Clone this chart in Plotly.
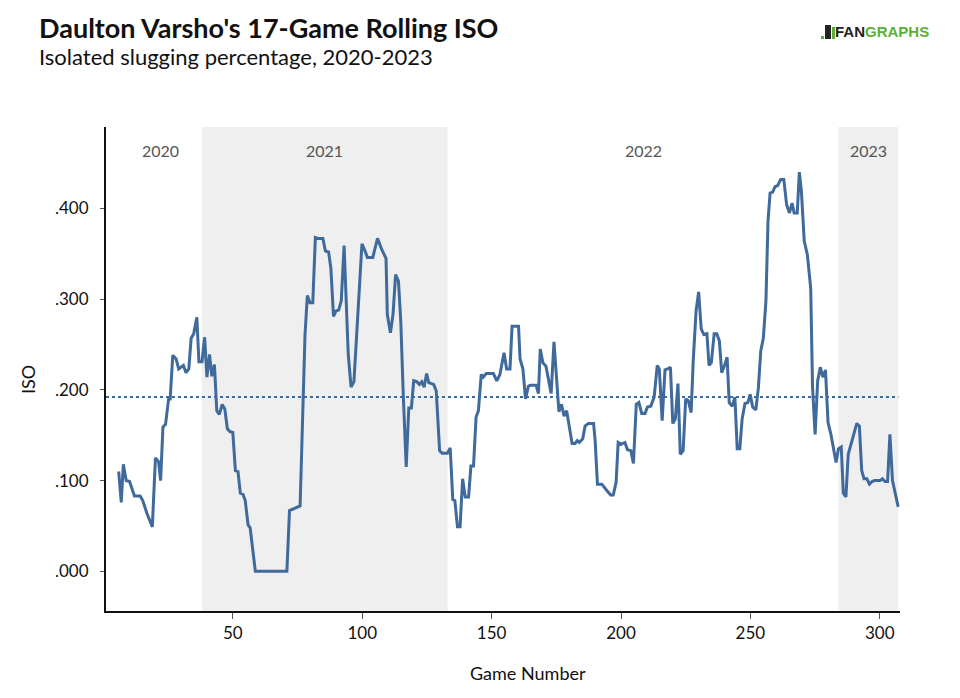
import plotly.graph_objects as go

# ---- data ----
games = [
    5.9, 6.9, 7.7, 8.8, 10.1, 12.0, 14.2, 15.2, 16.8, 18.0, 18.9, 20.1, 21.3, 22.1, 23.0, 24.0,
    25.2, 25.8, 26.8, 28.1, 29.1, 30.9, 31.9, 33.0, 33.9, 34.9, 36.1, 36.9, 38.1, 39.1, 40.0,
    41.0, 41.9, 42.9, 43.8, 44.8, 45.9, 46.9, 47.9, 48.9, 50.0, 51.0, 52.0, 52.9, 53.9, 54.8,
    55.9, 56.7, 58.7, 70.9, 71.9, 76.0,
    77.9, 78.8, 79.8, 80.9, 81.9, 82.9, 84.8, 85.8, 87.0, 87.9, 88.9, 89.9, 90.9, 91.9, 93.0,
    94.6, 95.7, 96.8, 99.9, 101.1, 102.0, 104.1, 105.9, 107.5, 109.2, 109.7, 110.9, 111.9,
    112.9, 114.0, 114.9, 115.9, 117.0, 118.0, 119.0, 119.9, 121.1, 122.1, 123.0, 123.9, 124.9,
    125.7, 127.6, 128.6, 129.9, 130.9, 132.9, 134.0, 135.0, 135.8, 136.8, 137.8, 138.8, 139.8,
    141.1, 142.0, 143.0, 144.0, 144.9, 146.0,
    146.8, 147.9, 150.7, 152.0, 153.2, 154.8, 155.8, 157.1, 157.9, 160.4, 161.0, 162.1, 163.1,
    164.2, 164.9, 167.2, 168.1, 168.8, 169.8, 171.0, 173.0, 174.1, 174.9, 176.0, 177.0, 178.0,
    179.0, 181.1, 182.2, 183.1, 183.9, 185.2, 186.1, 187.4, 189.4, 190.0, 190.9, 192.6, 194.5,
    196.0, 197.0, 198.1, 198.9, 200.0, 201.5, 202.5, 203.8, 204.8, 205.9, 206.9, 208.0, 209.3,
    210.2, 211.5, 212.8, 214.0,
    214.8, 215.9, 217.0, 218.0, 219.1, 220.0, 221.0, 222.0, 222.9, 224.0, 225.0, 226.0, 227.1,
    227.9, 229.0, 230.0, 231.0, 232.0, 233.2, 234.0, 234.9, 236.0, 237.0, 238.0, 238.9, 239.9,
    241.0, 241.8, 243.0, 244.0, 244.9, 245.9, 246.8, 247.9, 249.0, 249.9, 250.9, 252.1, 253.1,
    254.0, 255.0, 256.0, 256.8, 257.6, 258.6, 259.5, 260.5, 261.7, 262.9,
    264.0, 265.1, 266.1, 266.9, 268.1, 268.9, 269.7, 270.8, 272.0, 273.3, 274.0, 275.0, 276.0,
    277.0, 278.0, 279.0, 280.0, 281.1, 282.1, 283.1, 284.0, 285.1, 285.9, 286.9, 287.8, 288.9,
    290.0, 291.1, 292.1, 293.0, 293.9, 295.0, 296.0, 297.0, 298.0, 300.1, 301.0, 302.0, 303.0,
    303.9, 304.9, 305.9, 307.1,
]
iso = [
    0.110, 0.076, 0.118, 0.100, 0.099, 0.083, 0.083, 0.078, 0.064, 0.054, 0.049, 0.125, 0.121,
    0.100, 0.159, 0.162, 0.190, 0.190, 0.238, 0.234, 0.223, 0.227, 0.219, 0.223, 0.257, 0.262,
    0.280, 0.231, 0.231, 0.258, 0.214, 0.239, 0.215, 0.228, 0.177, 0.173, 0.184, 0.179, 0.157,
    0.154, 0.153, 0.111, 0.110, 0.086, 0.085, 0.078, 0.051, 0.048, 0.000, 0.000, 0.067, 0.072,
    0.261, 0.304, 0.296, 0.296, 0.368, 0.367, 0.367, 0.353, 0.352, 0.334, 0.281, 0.287, 0.288,
    0.298, 0.359, 0.239, 0.203, 0.209, 0.361, 0.353, 0.346, 0.346, 0.367, 0.355, 0.345, 0.283,
    0.263, 0.283, 0.327, 0.320, 0.276, 0.192, 0.115, 0.180, 0.180, 0.210, 0.209, 0.206, 0.209,
    0.203, 0.218, 0.208, 0.206, 0.199, 0.133, 0.130, 0.130, 0.136, 0.079, 0.078, 0.049, 0.049,
    0.102, 0.082, 0.082, 0.116, 0.116, 0.170, 0.177, 0.217,
    0.214, 0.218, 0.218, 0.210, 0.217, 0.241, 0.223, 0.223, 0.270, 0.270, 0.234, 0.223, 0.190,
    0.204, 0.205, 0.205, 0.196, 0.245, 0.230, 0.226, 0.196, 0.253, 0.221, 0.176, 0.184, 0.171,
    0.177, 0.141, 0.141, 0.144, 0.142, 0.146, 0.160, 0.163, 0.163, 0.144, 0.096, 0.096, 0.089,
    0.084, 0.084, 0.098, 0.142, 0.140, 0.142, 0.134, 0.133, 0.119, 0.184, 0.186, 0.174, 0.174,
    0.181, 0.182, 0.192, 0.227,
    0.223, 0.166, 0.222, 0.223, 0.225, 0.163, 0.168, 0.207, 0.129, 0.133, 0.190, 0.188, 0.175,
    0.232, 0.287, 0.308, 0.267, 0.261, 0.262, 0.227, 0.230, 0.262, 0.262, 0.254, 0.219, 0.226,
    0.236, 0.186, 0.182, 0.192, 0.135, 0.135, 0.168, 0.185, 0.186, 0.195, 0.181, 0.178, 0.203,
    0.243, 0.257, 0.298, 0.386, 0.417, 0.418, 0.424, 0.425, 0.432, 0.432,
    0.404, 0.395, 0.406, 0.395, 0.395, 0.440, 0.419, 0.364, 0.349, 0.312, 0.203, 0.151, 0.210,
    0.225, 0.214, 0.222, 0.164, 0.151, 0.135, 0.120, 0.135, 0.137, 0.086, 0.082, 0.129, 0.140,
    0.151, 0.163, 0.160, 0.111, 0.102, 0.102, 0.096, 0.099, 0.100, 0.100, 0.102, 0.099, 0.099,
    0.151, 0.100, 0.085, 0.071,
]
career_avg = 0.192

season_labels = ["2020", "2021", "2022", "2023"]
season_label_x = [22.1, 85.5, 208.5, 295.5]
shaded_starts = [38, 284]
shaded_ends = [133, 307.1]

y_tickvals = [0.0, 0.1, 0.2, 0.3, 0.4]
y_ticktext = [".000", ".100", ".200", ".300", ".400"]
x_tickvals = [50, 100, 150, 200, 250, 300]

LINE = "#3f6a9b"
FONT = "Lato"

# The page adds an 8px body margin; the figure is sized so it fills the window.
W, H = 952, 690
ML, MR, MT, MB = 98, 60, 119, 87
PW, PH = W - ML - MR, H - MT - MB


def px(X):
    """screen x pixel -> paper x"""
    return (X - 8 - ML) / PW


def py(Y):
    """screen y pixel -> paper y"""
    return (MT + PH - (Y - 8)) / PH


fig = go.Figure()

fig.add_trace(go.Scatter(
    x=games, y=iso, mode="lines",
    line=dict(color=LINE, width=3),
    hoverinfo="skip", showlegend=False,
))

# shaded seasons
for x0, x1 in zip(shaded_starts, shaded_ends):
    fig.add_vrect(x0=x0, x1=x1, fillcolor="#efefef", line_width=0, layer="below")

# career average dotted line
fig.add_shape(type="line", xref="paper", yref="y", x0=0, x1=0.998,
              y0=career_avg, y1=career_avg,
              line=dict(color=LINE, width=2, dash="dot"))

# season labels
for lbl, xv in zip(season_labels, season_label_x):
    fig.add_annotation(x=xv, y=py(151), xref="x", yref="paper", text=lbl,
                       showarrow=False, xanchor="center", yanchor="middle",
                       font=dict(family=FONT, size=16, color="#555555"))

# title & subtitle
fig.add_annotation(x=px(37), y=py(28), xref="paper", yref="paper",
                   text="<b>Daulton Varsho's 17-Game Rolling ISO</b>", showarrow=False,
                   xanchor="left", yanchor="middle",
                   font=dict(family=FONT, size=27, color="#111111"))
fig.add_annotation(x=px(37), y=py(57), xref="paper", yref="paper",
                   text="Isolated slugging percentage, 2020-2023", showarrow=False,
                   xanchor="left", yanchor="middle",
                   font=dict(family=FONT, size=22, color="#111111"))

# logo
fig.add_annotation(x=px(931), y=py(32), xref="paper", yref="paper",
                   text="<b><span style='color:#222222'>FAN</span>"
                        "<span style='color:#5cb033'>GRAPHS</span></b>",
                   showarrow=False, xanchor="right", yanchor="middle",
                   font=dict(family="Liberation Sans", size=15))
for (a, b, c, d, col) in [(821, 824, 39, 36, "#5cb033"),
                          (825, 831, 39, 25, "#222222"),
                          (832, 835, 39, 27, "#5cb033")]:
    fig.add_shape(type="rect", xref="paper", yref="paper",
                  x0=px(a), x1=px(b), y0=py(c), y1=py(d),
                  fillcolor=col, line_width=0)

# axis titles
fig.add_annotation(x=px(528), y=py(673), xref="paper", yref="paper",
                   text="Game Number", showarrow=False, xanchor="center", yanchor="middle",
                   font=dict(family=FONT, size=18, color="#111111"))
fig.add_annotation(x=px(28), y=py(380), xref="paper", yref="paper",
                   text="ISO", showarrow=False, textangle=-90, xanchor="center",
                   yanchor="middle", font=dict(family=FONT, size=18, color="#111111"))

fig.update_layout(
    width=W, height=H,
    margin=dict(l=ML, r=MR, t=MT, b=MB, autoexpand=False),
    paper_bgcolor="white", plot_bgcolor="white",
    font=dict(family=FONT, size=17, color="#111111"),
    showlegend=False,
    xaxis=dict(range=[1.0, 307.8], tickvals=x_tickvals, showgrid=False, zeroline=False,
               showline=True, linecolor="#111111", linewidth=2, ticks="outside",
               ticklen=6, tickcolor="#555555", tickwidth=1,
               tickfont=dict(family=FONT, size=17, color="#111111")),
    yaxis=dict(range=[-0.0438, 0.4898], tickvals=y_tickvals, ticktext=y_ticktext,
               showgrid=False, zeroline=False, showline=True, linecolor="#111111",
               linewidth=2, ticks="outside", ticklen=4, tickcolor="#555555", tickwidth=1,
               ticklabelstandoff=8,
               tickfont=dict(family=FONT, size=17, color="#111111")),
)

fig.write_html("out.html")
